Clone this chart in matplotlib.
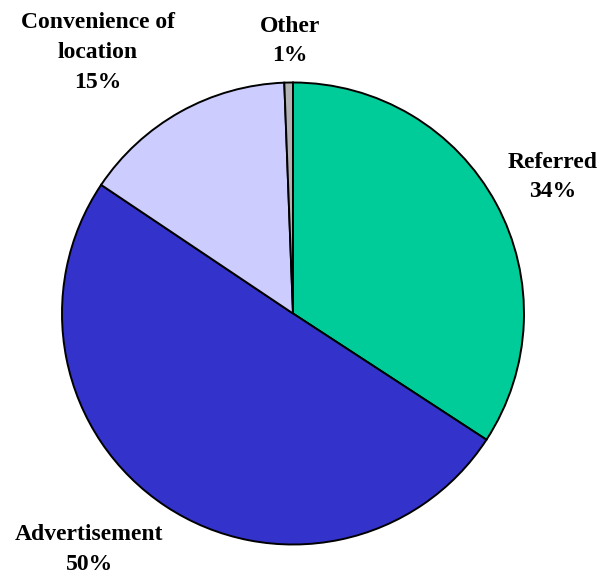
import matplotlib
matplotlib.use("Agg")
import matplotlib.pyplot as plt

# how clients found us
sources = ["Referred", "Advertisement", "Convenience of\nlocation", "Other"]
shares = [34.2, 50.2, 15.0, 0.6]
colors = ["#00CC99", "#3333CC", "#CCCCFF", "#B2B2B2"]

# label centres in pie units (radius = 1)
label_xy = [(1.126, 0.591), (-0.881, -1.022), (-0.844, 1.130), (-0.013, 1.180)]

fig = plt.figure(figsize=(6.04, 5.75), dpi=100)
ax = fig.add_axes([0, 0, 1, 1])

wedges, _ = ax.pie(shares, colors=colors, startangle=90, counterclock=False,
                   radius=1.0, wedgeprops=dict(edgecolor="black", linewidth=1.4))

total = sum(shares)
for name, val, (x, y) in zip(sources, shares, label_xy):
    pct = round(val / total * 100)
    ax.text(x, y, "%s\n%d%%" % (name, pct), ha="center", va="center",
            family="Liberation Serif", fontweight="bold", fontsize=17,
            linespacing=1.55)

ax.set_xlim(-293 / 231, (604 - 293) / 231)
ax.set_ylim(-261.5 / 231, (575 - 261.5) / 231)
ax.set_aspect("auto")
ax.axis("off")

fig.savefig("out.png", dpi=100)
